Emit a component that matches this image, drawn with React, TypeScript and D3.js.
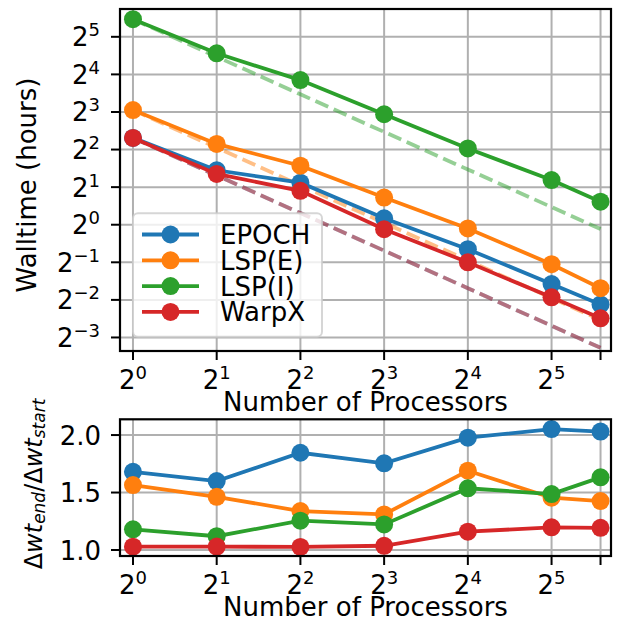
import React from "react";
import * as d3 from "d3";

// ---------- data ----------
const processors = [1, 2, 4, 8, 16, 32, 48];
const codes = ["EPOCH", "LSP(E)", "LSP(I)", "WarpX"];
const colors = ["#1f77b4", "#ff7f0e", "#2ca02c", "#d62728"];

// walltime in hours
const walltimeEPOCH = [4.96, 2.73, 2.17, 1.125, 0.637, 0.335, 0.23];
const walltimeLSPE = [8.28, 4.44, 2.97, 1.65, 0.933, 0.483, 0.31];
const walltimeLSPI = [44.3, 23.6, 14.4, 7.67, 4.08, 2.28, 1.53];
const walltimeWarpX = [4.96, 2.55, 1.87, 0.92, 0.5, 0.262, 0.178];

// ratio of wall time end / start
const ratioEPOCH = [1.68, 1.6, 1.846, 1.754, 1.977, 2.052, 2.03];
const ratioLSPE = [1.565, 1.463, 1.339, 1.31, 1.69, 1.455, 1.426];
const ratioLSPI = [1.18, 1.12, 1.255, 1.223, 1.537, 1.487, 1.632];
const ratioWarpX = [1.029, 1.03, 1.027, 1.037, 1.16, 1.197, 1.193];

const xTickExps = [0, 1, 2, 3, 4, 5];
const yTopTickExps = [-3, -2, -1, 0, 1, 2, 3, 4, 5];
const yBottomTicks = [1.0, 1.5, 2.0];

const walltimes = [walltimeEPOCH, walltimeLSPE, walltimeLSPI, walltimeWarpX];
const ratios = [ratioEPOCH, ratioLSPE, ratioLSPI, ratioWarpX];

// ---------- layout ----------
const W = 630;
const H = 621;
const FONT = "DejaVu Sans, Verdana, sans-serif";
const FS = 26;
const SUP = 18;
const LEFT = 120;
const RIGHT = 611;
const TOP1 = 9;
const BOT1 = 351;
const TOP2 = 419.3;
const BOT2 = 556;
const GRID = "#b0b0b0";
const LW = 3.8;
const MR = 9;

const x = d3.scaleLog().base(2).domain([Math.pow(2, -0.155), Math.pow(2, 5.71)]).range([LEFT, RIGHT]);
const yTop = d3.scaleLog().base(2).domain([Math.pow(2, -3.36), Math.pow(2, 5.74)]).range([BOT1, TOP1]);
const yBot = d3.scaleLinear().domain([0.948, 2.137]).range([BOT2, TOP2]);

function Pow2({ e, x0, y0, anchor }: { e: number; x0: number; y0: number; anchor: string }) {
  const s = e < 0 ? "\u2212" + Math.abs(e) : String(e);
  return (
    <text x={x0} y={y0} textAnchor={anchor} fontFamily={FONT} fontSize={FS} fill="#000">
      2<tspan fontSize={SUP} dy={-10}>{s}</tspan>
    </text>
  );
}

function XAxis({ bottom }: { bottom: number }) {
  return (
    <g>
      {processors.map((p, i) => (
        <line key={"t" + i} x1={x(p)} x2={x(p)} y1={bottom} y2={bottom + 9} stroke="#000" strokeWidth={2} />
      ))}
      {xTickExps.map((e) => (
        <Pow2 key={e} e={e} x0={x(Math.pow(2, e))} y0={bottom + 37.5} anchor="middle" />
      ))}
      <text x={(LEFT + RIGHT) / 2} y={bottom + 59.5} textAnchor="middle" fontFamily={FONT} fontSize={FS}>
        Number of Processors
      </text>
    </g>
  );
}

function VGrid({ top, bottom }: { top: number; bottom: number }) {
  return (
    <g>
      {processors.map((p, i) => (
        <line key={i} x1={x(p)} x2={x(p)} y1={top} y2={bottom} stroke={GRID} strokeWidth={2} />
      ))}
    </g>
  );
}

export default function App() {
  const lineTop = d3
    .line<[number, number]>()
    .x((d) => x(d[0]))
    .y((d) => yTop(d[1]));
  const lineBot = d3
    .line<[number, number]>()
    .x((d) => x(d[0]))
    .y((d) => yBot(d[1]));

  return (
    <svg width={W} height={H} style={{ position: "absolute", left: 0, top: 0, background: "#fff" }}>
      <defs>
        <clipPath id="c1">
          <rect x={LEFT} y={TOP1} width={RIGHT - LEFT} height={BOT1 - TOP1} />
        </clipPath>
        <clipPath id="c2">
          <rect x={LEFT} y={TOP2} width={RIGHT - LEFT} height={BOT2 - TOP2} />
        </clipPath>
      </defs>
      <rect x={0} y={0} width={W} height={H} fill="#fff" />

      {/* ---------- top panel ---------- */}
      <VGrid top={TOP1} bottom={BOT1} />
      {yTopTickExps.map((e) => (
        <line key={e} x1={LEFT} x2={RIGHT} y1={yTop(Math.pow(2, e))} y2={yTop(Math.pow(2, e))} stroke={GRID} strokeWidth={2} />
      ))}
      <g clipPath="url(#c1)">
        {walltimes.map((s, k) => (
          <path
            key={"ideal" + k}
            d={lineTop(processors.map((p) => [p, s[0] / p] as [number, number])) || ""}
            fill="none"
            stroke={colors[k]}
            strokeOpacity={0.5}
            strokeWidth={LW}
            strokeDasharray="14 6"
          />
        ))}
        {walltimes.map((s, k) => (
          <g key={"s" + k}>
            <path
              d={lineTop(processors.map((p, i) => [p, s[i]] as [number, number])) || ""}
              fill="none"
              stroke={colors[k]}
              strokeWidth={LW}
            />
            {processors.map((p, i) => (
              <circle key={i} cx={x(p)} cy={yTop(s[i])} r={MR} fill={colors[k]} />
            ))}
          </g>
        ))}
      </g>
      <rect x={LEFT} y={TOP1} width={RIGHT - LEFT} height={BOT1 - TOP1} fill="none" stroke="#000" strokeWidth={2.2} />
      {yTopTickExps.map((e) => (
        <g key={"yt" + e}>
          <line x1={LEFT - 9} x2={LEFT} y1={yTop(Math.pow(2, e))} y2={yTop(Math.pow(2, e))} stroke="#000" strokeWidth={2} />
          <Pow2 e={e} x0={LEFT - 20} y0={yTop(Math.pow(2, e)) + 9.5} anchor="end" />
        </g>
      ))}
      <XAxis bottom={BOT1} />
      <text
        transform={`translate(36,185) rotate(-90)`}
        textAnchor="middle"
        fontFamily={FONT}
        fontSize={FS}
      >
        Walltime (hours)
      </text>

      {/* legend */}
      <g>
        <rect x={133} y={213.3} width={189} height={123.5} rx={5} fill="#fff" fillOpacity={0.8} stroke="#cccccc" strokeOpacity={0.8} strokeWidth={2} />
        {codes.map((c, k) => {
          const ry = 234.5 + k * 25.8;
          return (
            <g key={c}>
              <line x1={142} x2={199} y1={ry} y2={ry} stroke={colors[k]} strokeWidth={LW} />
              <circle cx={170.5} cy={ry} r={MR} fill={colors[k]} />
              <text x={220} y={ry + 9.5} fontFamily={FONT} fontSize={FS}>
                {c}
              </text>
            </g>
          );
        })}
      </g>

      {/* ---------- bottom panel ---------- */}
      <VGrid top={TOP2} bottom={BOT2} />
      {yBottomTicks.map((v) => (
        <line key={v} x1={LEFT} x2={RIGHT} y1={yBot(v)} y2={yBot(v)} stroke={GRID} strokeWidth={2} />
      ))}
      <g clipPath="url(#c2)">
        {ratios.map((s, k) => (
          <g key={"r" + k}>
            <path
              d={lineBot(processors.map((p, i) => [p, s[i]] as [number, number])) || ""}
              fill="none"
              stroke={colors[k]}
              strokeWidth={LW}
            />
            {processors.map((p, i) => (
              <circle key={i} cx={x(p)} cy={yBot(s[i])} r={MR} fill={colors[k]} />
            ))}
          </g>
        ))}
      </g>
      <rect x={LEFT} y={TOP2} width={RIGHT - LEFT} height={BOT2 - TOP2} fill="none" stroke="#000" strokeWidth={2.2} />
      {yBottomTicks.map((v) => (
        <g key={"yb" + v}>
          <line x1={LEFT - 9} x2={LEFT} y1={yBot(v)} y2={yBot(v)} stroke="#000" strokeWidth={2} />
          <text x={LEFT - 19} y={yBot(v) + 9.5} textAnchor="end" fontFamily={FONT} fontSize={FS}>
            {v.toFixed(1)}
          </text>
        </g>
      ))}
      <XAxis bottom={BOT2} />
      <text
        transform={`translate(41.5,484) rotate(-90)`}
        textAnchor="middle"
        fontFamily={FONT}
        fontSize={24}
      >
        Δ<tspan fontStyle="italic">wt</tspan>
        <tspan fontStyle="italic" fontSize={17} dy={3}>end</tspan>
        <tspan dy={-3}>/Δ</tspan>
        <tspan fontStyle="italic">wt</tspan>
        <tspan fontStyle="italic" fontSize={17} dy={3}>start</tspan>
      </text>
    </svg>
  );
}
